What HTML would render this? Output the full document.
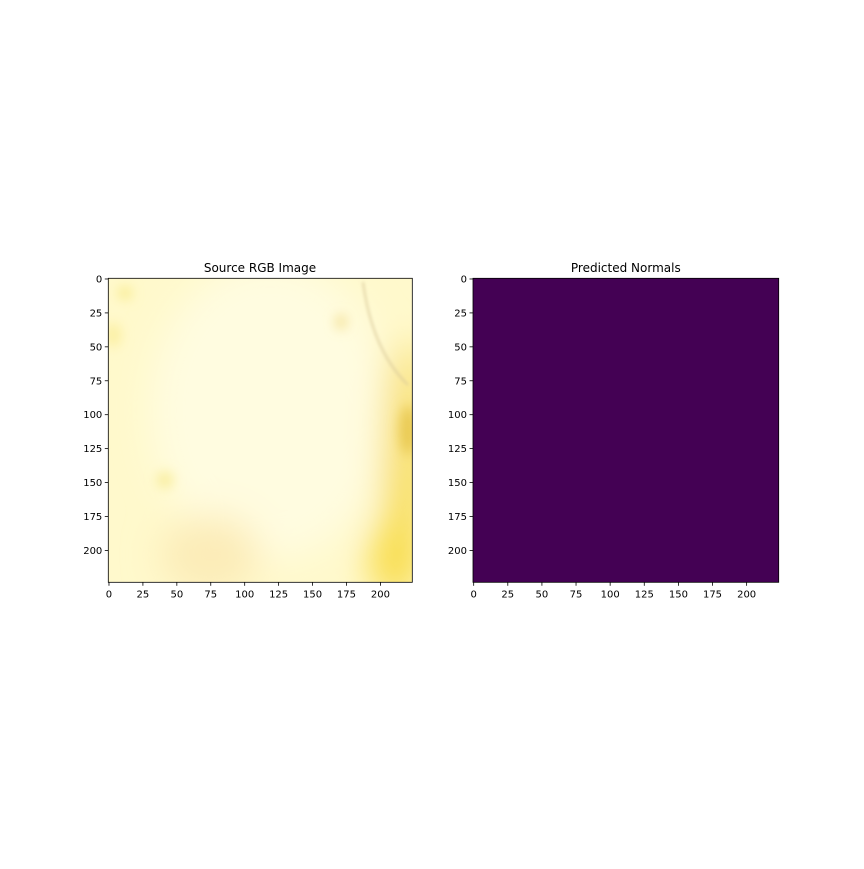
<!DOCTYPE html>
<html><head><meta charset="utf-8"><style>
body{margin:0;background:#fff;}
svg text{font-family:"DejaVu Sans","Liberation Sans",sans-serif;font-size:10px;fill:#000;}
</style></head><body>
<svg id="c" width="864" height="864">
<defs>
<filter id="bl" x="-50%" y="-50%" width="200%" height="200%"><feGaussianBlur stdDeviation="18"/></filter>
<filter id="bs" x="-50%" y="-50%" width="200%" height="200%"><feGaussianBlur stdDeviation="6"/></filter>
<filter id="bl2" x="-50%" y="-50%" width="200%" height="200%"><feGaussianBlur stdDeviation="1.5"/></filter>
<clipPath id="cl"><rect x="108.3" y="278.3" width="304" height="304"/></clipPath>
</defs>
<g id="left" clip-path="url(#cl)">
<rect x="108.3" y="278.3" width="304" height="304" fill="#fff9cc"/>
<g filter="url(#bl)">
<ellipse cx="270" cy="410" rx="120" ry="150" fill="#fffce0"/>
<ellipse cx="210" cy="555" rx="50" ry="40" fill="#fcecb8"/>
<ellipse cx="405" cy="470" rx="20" ry="130" fill="#f7dc58"/>
<ellipse cx="395" cy="560" rx="25" ry="40" fill="#f8dc48"/>
</g>
<g filter="url(#bs)">
<ellipse cx="408" cy="430" rx="8" ry="25" fill="#e8c850"/>
<ellipse cx="341" cy="322" rx="5" ry="7" fill="#f2dc88"/>
<ellipse cx="165" cy="480" rx="8" ry="8" fill="#f8ec98"/>
<ellipse cx="125" cy="293" rx="7" ry="6" fill="#f8ea88"/>
<ellipse cx="113" cy="335" rx="8" ry="12" fill="#fbefa0"/>
</g>
<path d="M363 282 Q372 350 408 385" stroke="#d8c898" stroke-width="1.5" fill="none" filter="url(#bl2)"/>
</g>
<rect x="108.3" y="278.3" width="304" height="304" fill="none" stroke="#000" stroke-width="0.8"/>
<text x="260" y="272" text-anchor="middle" style="font-size:12px">Source RGB Image</text>
<rect x="473" y="278.3" width="305.7" height="304" fill="#440154" stroke="#000" stroke-width="0.8"/>
<text x="625.8" y="272" text-anchor="middle" style="font-size:12px">Predicted Normals</text>
<g id="axes"></g>
</svg>
<script>
const xTicks=[0,25,50,75,100,125,150,175,200];
const yTicks=[0,25,50,75,100,125,150,175,200];
const panels=[{x0:108.3,w:304},{x0:473,w:305.7}];
const y0=278.3,h=304,N=224;
const g=document.getElementById('axes');
const NS='http://www.w3.org/2000/svg';
function mk(t,a){const e=document.createElementNS(NS,t);for(const k in a)e.setAttribute(k,a[k]);g.appendChild(e);return e;}
panels.forEach((p,i)=>{
 const sx=v=>p.x0+(v+0.5)*p.w/N, sy=v=>y0+(v+0.5)*h/N;
 xTicks.forEach(v=>{
  const l=mk('line',{x1:sx(v),x2:sx(v),y1:y0+h,y2:y0+h+3.5,stroke:'#000','stroke-width':0.8});
  
  
  const t=mk('text',{x:sx(v),y:y0+h+15,'text-anchor':'middle'});t.textContent=v;
  
  
 });
 yTicks.forEach(v=>{
  const l=mk('line',{x1:p.x0-3.5,x2:p.x0,y1:sy(v),y2:sy(v),stroke:'#000','stroke-width':0.8});
  
  
  const t=mk('text',{x:p.x0-6,y:sy(v)+3.5,'text-anchor':'end'});t.textContent=v;
  
  
 });
});
</script>
</body></html>
